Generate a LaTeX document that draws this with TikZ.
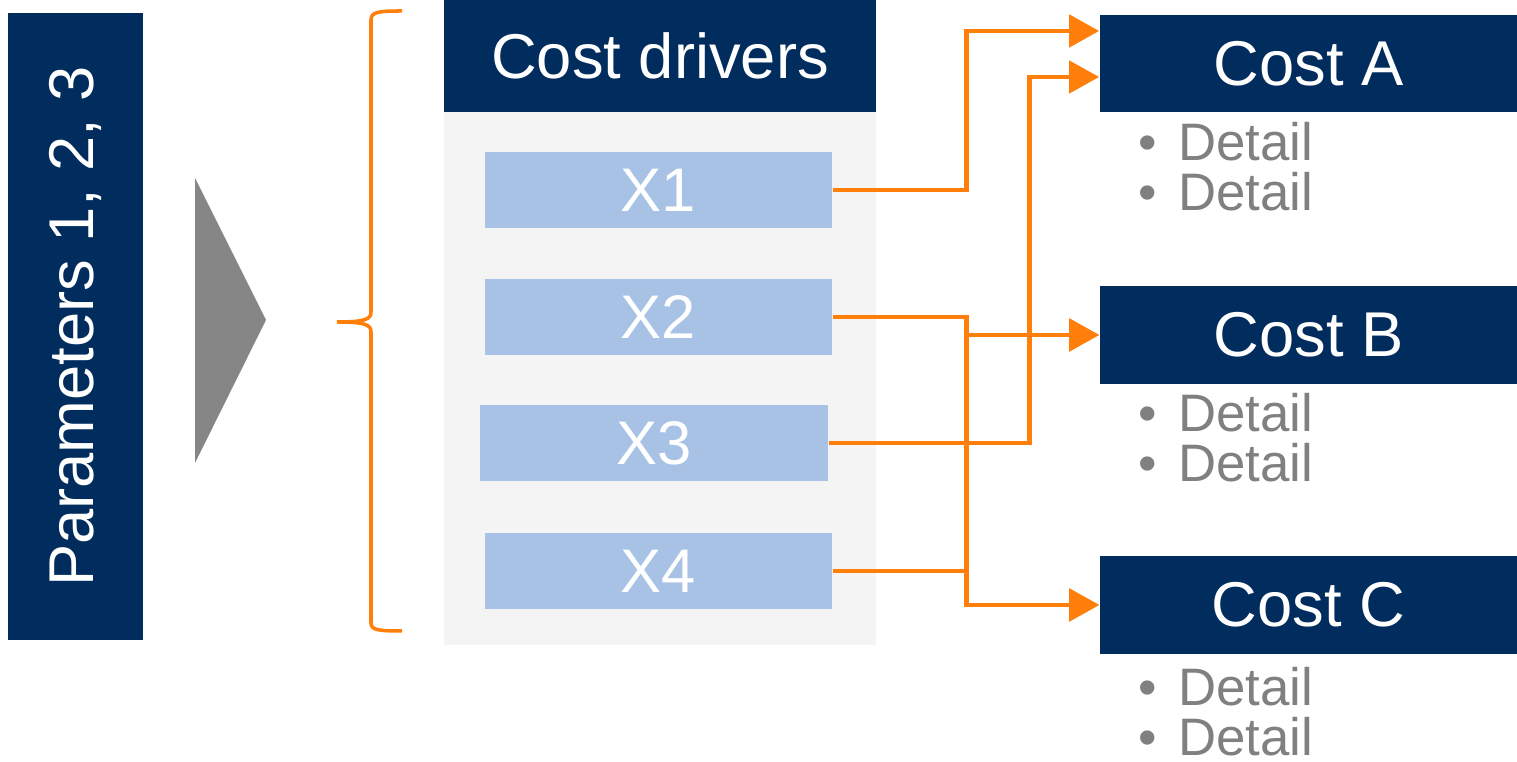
\documentclass[tikz,border=0pt]{standalone}
\usepackage{fontspec}
\setmainfont{Liberation Sans}
\usetikzlibrary{arrows.meta}

\definecolor{navy}{HTML}{002C5E}
\definecolor{driverblue}{HTML}{A8C2E6}
\definecolor{panelgray}{HTML}{F4F4F4}
\definecolor{flowor}{HTML}{FF7F0A}
\definecolor{detailgray}{HTML}{808080}

\begin{document}
\begin{tikzpicture}[x=0.01cm, y=-0.01cm,
  darkbox/.style={fill=navy, text=white, inner sep=0pt, font=\fontsize{18pt}{20pt}\selectfont},
  driver/.style={fill=driverblue, text=white, inner sep=0pt, minimum width=3.47cm, minimum height=0.76cm, font=\fontsize{17.5pt}{20pt}\selectfont},
  costbox/.style={darkbox, minimum width=4.17cm, minimum height=0.97cm},
  details/.style={anchor=west, inner sep=0pt, align=left, text=detailgray, font=\fontsize{15pt}{14.2pt}\selectfont},
  flow/.style={flowor, line width=1.35pt, -{Triangle[length=3mm,width=3.2mm]}}]

\useasboundingbox (0,0) rectangle (1517,762);

\node[darkbox, rotate=90, minimum width=6.27cm, minimum height=1.35cm] (params) at (75.5,326.5) {Parameters 1, 2, 3};

\fill [gray!95] (195,178) -- (266,320) -- (195,463) -- cycle;

% brace
\draw [flowor, line width=1pt] (402,11) .. controls (378,11) and (371,12) .. (371,20) -- (371,312)
  .. controls (371,319) and (366,322) .. (337,322) .. controls (366,322) and (371,325) .. (371,332)
  -- (371,623) .. controls (371,630) and (378,631) .. (402,631);

\node[fill=panelgray, inner sep=0pt, minimum width=4.32cm, minimum height=5.33cm] (panel) at (660,378.5) {};
\node[darkbox, minimum width=4.32cm, minimum height=1.12cm] (drivers) at (660,56) {Cost drivers};

\node[driver] (x1) at (658.5,190) {X1};
\node[driver] (x2) at (658.5,317) {X2};
\node[driver, minimum width=3.48cm] (x3) at (654,443) {X3};
\node[driver] (x4) at (658.5,571) {X4};

\node[costbox] (costA) at (1308.5,63.5) {Cost A};
\node[costbox] (costB) at (1308.5,335) {Cost B};
\node[costbox] (costC) at (1308.5,605) {Cost C};

\node[details] (detA) at (1138,167) {\textbullet\hspace{6pt}Detail\\\textbullet\hspace{6pt}Detail};
\node[details] (detB) at (1138,438) {\textbullet\hspace{6pt}Detail\\\textbullet\hspace{6pt}Detail};
\node[details] (detC) at (1138,712) {\textbullet\hspace{6pt}Detail\\\textbullet\hspace{6pt}Detail};

% driver to cost links
\draw [flow] (x1.east) -- ++(134,0) |- ([yshift=3.25mm]costA.west);
\draw [flow] (x3.east) -- ++(201,0) |- ([yshift=-1.35mm]costA.west);
\draw [flow] (x2.east) -- ++(134,0) |- (costB.west);
\draw [flow] (x2.east) -- ++(134,0) |- (costC.west);
\draw [flow] (x4.east) -- ++(134,0) |- (costB.west);
\draw [flow] (x4.east) -- ++(134,0) |- (costC.west);

\end{tikzpicture}
\end{document}
